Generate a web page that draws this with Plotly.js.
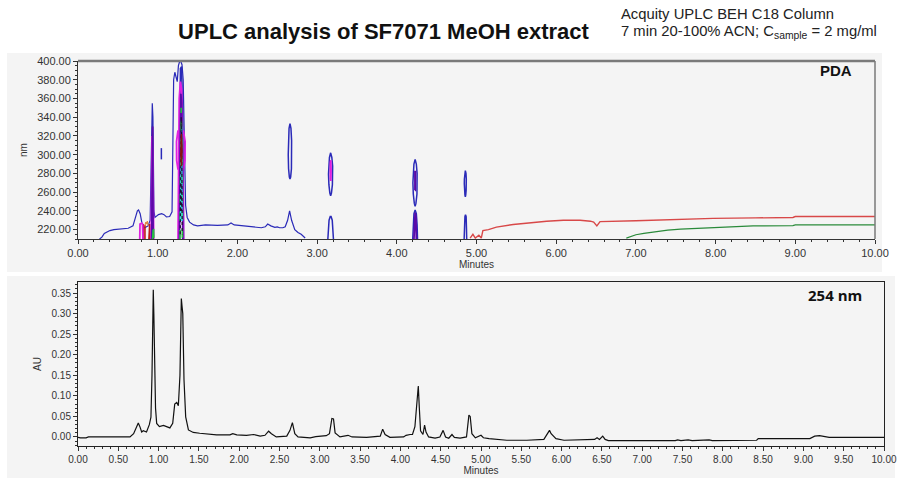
<!DOCTYPE html>
<html><head><meta charset="utf-8">
<script src="https://cdn.plot.ly/plotly-3.0.1.min.js"></script>
<style>html,body{margin:0;padding:0;background:#fff}#chart{width:898px;height:486px}</style>
</head><body><div id="chart"></div>
<script>
// ---------- 254 nm chromatogram (minutes, AU) ----------
const chromT = [0.00,0.03,0.10,0.13,0.40,0.645,0.69,0.725,0.748,0.77,0.79,0.81,0.85,0.885,0.905,0.918,0.928,0.934,0.941,0.947,0.955,0.962,0.976,1.01,1.06,1.10,1.14,1.175,1.20,1.225,1.245,1.265,1.275,1.282,1.29,1.30,1.315,1.336,1.37,1.43,1.51,1.60,1.72,1.885,1.92,1.97,2.09,2.18,2.26,2.32,2.365,2.40,2.46,2.59,2.63,2.66,2.69,2.73,2.88,2.95,3.00,3.08,3.12,3.15,3.17,3.19,3.25,3.35,3.40,3.58,3.75,3.78,3.81,3.87,4.04,4.07,4.12,4.15,4.18,4.21,4.222,4.235,4.25,4.28,4.30,4.318,4.35,4.43,4.49,4.53,4.56,4.60,4.64,4.67,4.74,4.82,4.85,4.866,4.887,4.93,5.00,5.03,5.10,5.32,5.57,5.78,5.82,5.85,5.87,5.93,6.03,6.41,6.44,6.47,6.51,6.54,6.58,7.41,7.44,7.48,7.57,7.62,7.83,7.87,8.42,8.44,9.08,9.14,9.20,9.28,9.32,10.0];
const chromAU = [-0.001,-0.002,-0.002,0.000,0.000,0.000,0.008,0.024,0.034,0.024,0.012,0.015,0.012,0.030,0.048,0.150,0.300,0.358,0.300,0.245,0.130,0.070,0.033,0.025,0.028,0.025,0.022,0.033,0.080,0.084,0.076,0.150,0.280,0.337,0.320,0.300,0.140,0.049,0.017,0.011,0.009,0.007,0.005,0.005,0.008,0.005,0.004,0.006,0.002,0.004,0.014,0.008,0.000,0.002,0.016,0.035,0.008,0.000,-0.002,0.001,0.002,0.003,0.008,0.045,0.044,0.010,0.000,0.004,0.000,-0.001,0.002,0.019,0.006,-0.001,0.000,0.004,0.006,0.006,0.025,0.100,0.124,0.070,0.015,0.006,0.029,0.012,0.000,-0.003,0.000,0.016,0.000,-0.003,0.006,-0.001,-0.003,0.000,0.053,0.050,0.008,-0.002,0.004,-0.002,-0.004,-0.008,-0.008,-0.006,0.008,0.016,0.008,-0.004,-0.008,-0.006,-0.002,-0.006,0.002,-0.006,-0.009,-0.009,-0.007,-0.009,-0.007,-0.009,-0.007,-0.009,-0.008,-0.004,-0.004,0.002,0.003,0.001,-0.001,-0.001];

// ---------- PDA contour lines (minutes, nm) ----------
const blueT = [0.27,0.30,0.33,0.40,0.45,0.55,0.63,0.69,0.72,0.745,0.76,0.78,0.80,0.82,0.84,0.88,0.905,0.915,0.925,0.932,0.94,0.947,0.953,0.965,0.98,1.01,1.05,1.08,1.11,1.15,1.18,1.19,1.20,1.215,1.23,1.245,1.26,1.275,1.29,1.305,1.32,1.33,1.34,1.35,1.37,1.40,1.45,1.50,1.60,1.75,1.88,1.92,1.96,2.05,2.20,2.30,2.35,2.38,2.42,2.47,2.50,2.53,2.57,2.60,2.63,2.655,2.68,2.72,2.76,2.80,2.85];
const blueNm = [210,212,216,219,220,220.5,221.5,224,232,240,241,237,228,222,222,224,230,280,340,355,340,280,240,233,234,236,237,236,233.5,234,239,300,380,388,384,378,395,399.5,399.5,396,380,340,280,246,233,228,225,224,225,224.5,225,227,225,224,223,222,223,226,224,222.5,223,222,222,223,230,240,230,220,217,215,211];

const ringT = [2.66,2.672,2.68,2.682,2.678,2.668,2.66,2.652,2.642,2.638,2.64,2.648,2.66,null,
  3.17,3.185,3.195,3.197,3.192,3.18,3.17,3.16,3.148,3.143,3.145,3.155,3.17,null,
  3.135,3.14,3.15,3.165,3.175,3.19,3.2,3.205,null,
  4.23,4.245,4.255,4.258,4.253,4.24,4.23,4.22,4.207,4.202,4.205,4.215,4.23,null,
  4.2,4.205,4.215,4.23,4.245,4.255,4.26,null,
  4.86,4.868,4.872,4.873,4.87,4.865,4.86,4.855,4.85,4.847,4.848,4.852,4.86,null,
  4.845,4.848,4.855,4.862,4.87,4.874,4.877,null,
  1.046,1.046,null,
  1.268,1.272,1.285,1.30,1.315,1.322,1.325];
const ringNm = [333,328,315,300,285,276,274,276,285,300,315,328,333,null,
  302,297,288,279,268,259,256,259,268,279,288,297,302,null,
  210,220,230,234,234,230,220,210,null,
  295,290,280,270,258,248,245,248,258,270,280,290,295,null,
  210,225,237,241,237,225,210,null,
  283,280,274,269,262,257,255,257,262,269,274,280,283,null,
  210,222,234,236,234,222,210,null,
  295,307,null,
  210,300,392,394,330,260,210];

const magT = [0.775,0.778,0.80,0.81,0.815,null,0.918,0.922,0.93,0.938,0.945,0.95,null,1.255,1.26,1.27,1.285,1.30,1.31,1.32,1.325,null,1.255,1.238,1.236,1.255,null,1.322,1.342,1.344,1.322,null,3.167,3.172,3.175,3.172,3.167,3.167];
const magNm = [210,226,227,226,210,null,210,260,320,300,240,210,null,210,290,360,378,370,320,260,210,null,284,294,314,326,null,284,294,314,326,null,274,272,283,294,292,274];

const purpT = [0.925,0.93,0.936,0.942,null,1.272,1.28,1.29,1.30,1.31,1.315,null,4.215,4.22,4.23,4.24,4.245,null,4.228,4.232,4.234,4.228,4.228];
const purpNm = [210,300,330,210,null,210,330,365,355,300,210,null,210,232,238,232,210,null,262,262,282,282,262];

const greenT = [1.28,1.285,1.295,1.305,1.31,null,0.935,0.94,0.948,0.952];
const greenNm = [210,300,350,300,210,null,210,225,225,210];
const cyanT = [1.285,1.29,1.30,1.305,1.285];
const cyanNm = [230,300,330,230,230];
const darkT = [1.283,1.288,1.295,1.303,1.308,null,1.286,1.293,1.30];
const darkNm = [215,280,340,280,215,null,240,270,240];
const coreT = [1.29,1.298,1.305,1.298,1.29];
const coreNm = [300,322,305,288,300];
const redBarT = [0.82,0.82,null,0.84,0.84,null,0.89,0.892,0.90,0.905];
const redBarNm = [210,226,null,210,225,null,210,226,226,210];
const orangeT = [0.84,0.85,0.86,0.87,0.88];
const orangeNm = [224,228,226,229,224];

const redBaseT = [4.92,4.955,4.985,5.03,5.06,5.08,5.15,5.25,5.46,5.67,5.88,6.09,6.30,6.43,6.47,6.51,6.55,7.00,7.26,7.60,7.97,8.50,8.97,9.00,9.50,10.0];
const redBaseNm = [211,215,211,214,211,219,220,222.7,225.5,227.5,229,230,230,229,228,224,228.5,229.5,230.3,231,232,232.5,233,234,234,234];
const greenBaseT = [6.88,6.95,7.00,7.10,7.26,7.40,7.56,7.80,7.97,8.20,8.47,8.60,8.62,8.64,8.70,8.97,9.00,9.50,10.0];
const greenBaseNm = [211,213,214.5,216,218,219.5,220.5,221.5,222.3,223,224,224.1,224.1,224.1,224.2,224.3,225,225,225];

// tick label settings
const yTopTicks = [220,240,260,280,300,320,340,360,380,400];

const FONT = 'Liberation Sans, Arial, sans-serif';
function ln(x,y,color,width,extra){return Object.assign({x:x,y:y,type:'scatter',mode:'lines',xaxis:'x',yaxis:'y',line:{color:color,width:width},hoverinfo:'skip'},extra||{});}

const traces = [
  ln(blueT,blueNm,'#2a2ab8',1.2),
  ln(ringT,ringNm,'#2a2ab8',1.5),
  ln(redBarT,redBarNm,'#c01818',1.6),
  ln(orangeT,orangeNm,'#e08848',1.2),
  ln(magT,magNm,'#e020e0',1.8),
  ln(purpT,purpNm,'#5a0aa8',1.8),
  ln(greenT,greenNm,'#22c040',1.6,{line:{color:'#22c040',width:1.6,dash:'dash'}}),
  ln(cyanT,cyanNm,'#30e0e0',1.3),
  ln(darkT,darkNm,'#201030',1.3,{line:{color:'#201030',width:1.3,dash:'dot'}}),
  ln(coreT,coreNm,'#8a1010',1.5,{fill:'toself',fillcolor:'#8a1010'}),
  ln(redBaseT,redBaseNm,'#d84848',1.4),
  ln(greenBaseT,greenBaseNm,'#2a8a3a',1.2),
  {x:chromT,y:chromAU,type:'scatter',mode:'lines',xaxis:'x2',yaxis:'y2',line:{color:'#111',width:1.2},hoverinfo:'skip'}
];

const W=898,H=486;
const axBase = {showgrid:false,zeroline:false,showline:true,ticks:'outside',ticklen:4,tickwidth:1,fixedrange:true};
const layout = {
  width:W,height:H,margin:{l:0,r:0,t:0,b:0},
  paper_bgcolor:'#ffffff',plot_bgcolor:'rgba(0,0,0,0)',showlegend:false,
  font:{family:FONT,color:'#333'},
  title:{text:'<b>UPLC analysis of SF7071 MeOH extract</b>',x:383.5/W,xanchor:'center',y:1-31/H,yanchor:'middle',font:{family:FONT,size:22,color:'#111'}},
  xaxis:Object.assign({},axBase,{domain:[78/W,875/W],anchor:'y',range:[0,10],dtick:1,tick0:0,tickformat:'.2f',
    linecolor:'#333',tickcolor:'#333',tickfont:{size:11,color:'#333',family:FONT},
    minor:{dtick:0.2,ticks:'outside',ticklen:2,tickcolor:'#333'},
    title:{text:'Minutes',font:{size:10,color:'#333',family:FONT},standoff:2}}),
  yaxis:Object.assign({},axBase,{domain:[1-239/H,1-61/H],anchor:'x',range:[210,400],tickvals:yTopTicks,tickformat:'.2f',
    linecolor:'#333',tickcolor:'#333',tickfont:{size:11,color:'#333',family:FONT},
    minor:{dtick:5,ticks:'outside',ticklen:2,tickcolor:'#333'},
    title:{text:'nm',font:{size:10,color:'#333',family:FONT},standoff:7}}),
  xaxis2:Object.assign({},axBase,{domain:[78/W,884/W],anchor:'y2',range:[0,10],dtick:0.5,tick0:0,tickformat:'.2f',mirror:true,
    linecolor:'#222',tickcolor:'#333',tickfont:{size:10,color:'#333',family:FONT},
    minor:{dtick:0.1,ticks:'outside',ticklen:2,tickcolor:'#333'},
    title:{text:'Minutes',font:{size:10,color:'#333',family:FONT},standoff:0}}),
  yaxis2:Object.assign({},axBase,{domain:[1-446/H,1-282/H],anchor:'x2',range:[-0.022,0.377],dtick:0.05,tick0:0,tickformat:'.2f',mirror:true,
    linecolor:'#222',tickcolor:'#333',tickfont:{size:10,color:'#333',family:FONT},
    minor:{dtick:0.01,ticks:'outside',ticklen:2,tickcolor:'#333'},
    title:{text:'AU',font:{size:10,color:'#333',family:FONT},standoff:8}}),
  shapes:[
    {type:'rect',xref:'paper',yref:'paper',x0:7/W,x1:882/W,y0:1-272/H,y1:1-53/H,fillcolor:'#f4f4f4',line:{width:0},layer:'below'},
    {type:'rect',xref:'paper',yref:'paper',x0:7/W,x1:895/W,y0:1-478/H,y1:1-276/H,fillcolor:'#f4f4f4',line:{width:0},layer:'below'},
    {type:'line',xref:'x domain',yref:'y domain',x0:0,x1:1,y0:1,y1:1,line:{color:'#7a7a7a',width:2.5}},
    {type:'line',xref:'x domain',yref:'y domain',x0:1,x1:1,y0:0,y1:1,line:{color:'#7a7a7a',width:1.5}}
  ],
  annotations:[
    {text:'Acquity UPLC BEH C18 Column',xref:'paper',yref:'paper',x:619/W,y:1-14/H,xanchor:'left',yanchor:'middle',align:'left',showarrow:false,font:{family:FONT,size:14.8,color:'#222'}},
    {text:'7 min 20-100% ACN; C<sub>sample</sub> = 2 mg/ml',xref:'paper',yref:'paper',x:619/W,y:1-32/H,xanchor:'left',yanchor:'middle',align:'left',showarrow:false,font:{family:FONT,size:14.8,color:'#222'}},
    {text:'<b>PDA</b>',xref:'paper',yref:'paper',x:836/W,y:1-70/H,xanchor:'center',yanchor:'middle',showarrow:false,font:{family:FONT,size:15,color:'#111'}},
    {text:'<b>254 nm</b>',xref:'paper',yref:'paper',x:835/W,y:1-295/H,xanchor:'center',yanchor:'middle',showarrow:false,font:{family:'Open Sans, sans-serif',size:15,color:'#111'}}
  ]
};
Plotly.newPlot('chart',traces,layout,{displayModeBar:false,staticPlot:true});
</script></body></html>
